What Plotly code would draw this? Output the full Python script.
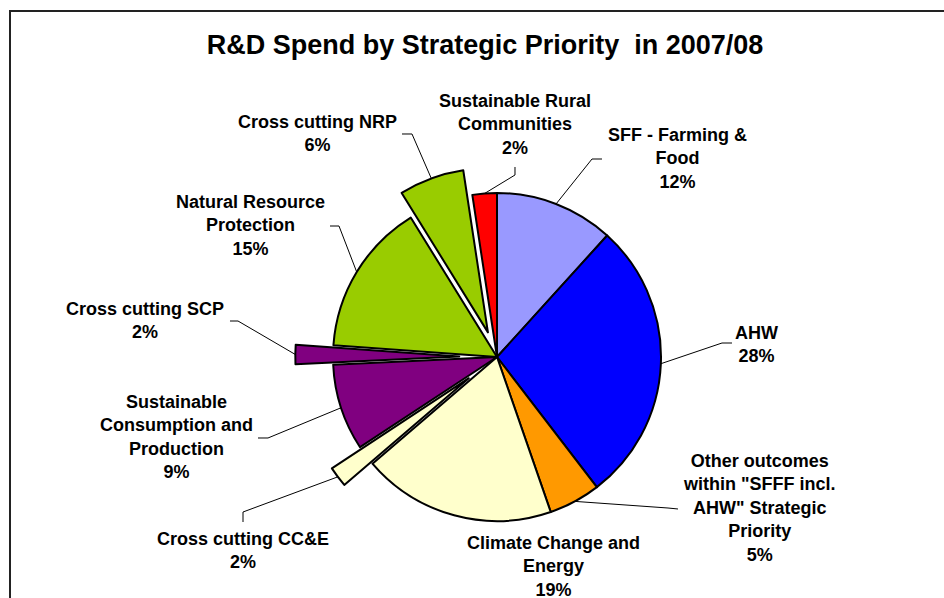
import math
import plotly.graph_objects as go

# ---------------- data ----------------
categories = [
    "SFF - Farming & Food",
    "AHW",
    "Other outcomes within \"SFFF incl. AHW\" Strategic Priority",
    "Climate Change and Energy",
    "Cross cutting CC&E",
    "Sustainable Consumption and Production",
    "Cross cutting SCP",
    "Natural Resource Protection",
    "Cross cutting NRP",
    "Sustainable Rural Communities",
]
values = [11.7, 27.8, 5.1, 19.0, 2.0, 8.5, 1.9, 15.0, 6.4, 2.4]
label_lines = [
    "SFF - Farming &<br>Food",
    "AHW",
    "Other outcomes<br>within \"SFFF incl.<br>AHW\" Strategic<br>Priority",
    "Climate Change and<br>Energy",
    "Cross cutting CC&E",
    "Sustainable<br>Consumption and<br>Production",
    "Cross cutting SCP",
    "Natural Resource<br>Protection",
    "Cross cutting NRP",
    "Sustainable Rural<br>Communities",
]

# ---------------- style / layout ----------------
colors = ["#9999FF", "#0000FF", "#FF9900", "#FFFFCC", "#FFFFCC",
          "#800080", "#800080", "#99CC00", "#99CC00", "#FF0000"]
pulls = [0, 0, 0, 0, 0.215, 0, 0.23, 0, 0.16, 0]

W, H = 944, 598
CX, CY, R = 497, 357, 164          # pie centre and radius in pixels
FONT = "Liberation Sans, Arial, sans-serif"

# label centres (px) and leader start/elbow points (px); None = no leader
label_pos = [(677, 158), (756, 345), (759, 508), (553, 566), (243, 550),
             (176, 437), (145, 320), (250, 226), (317, 134), (515, 125)]
leader_pts = [
    [(602, 159), (592, 159)],
    [(732, 343), (722, 343)],
    [(678, 509), (668, 508)],
    None,
    [(243, 522), (243, 512)],
    [(258, 438), (268, 438)],
    [(230, 321), (238, 321)],
    [(330, 226), (339, 226)],
    [(402, 134), (412, 134)],
    [(515, 167), (515, 175)],
]


def px(x):
    return x / W


def py(y):
    return 1 - y / H


maxpull = max(pulls)
half = R * (1 + maxpull)
dom_x = [px(CX - half), px(CX + half)]
dom_y = [py(CY + half), py(CY - half)]

fig = go.Figure(go.Pie(
    labels=categories,
    values=values,
    sort=False,
    direction="clockwise",
    rotation=0,
    pull=pulls,
    marker=dict(colors=colors, line=dict(color="#000000", width=2)),
    textinfo="none",
    hoverinfo="label+percent",
    showlegend=False,
    domain=dict(x=dom_x, y=dom_y),
))

total = sum(values)
annotations = []
shapes = []
cum = 0.0
for i, v in enumerate(values):
    a0 = cum / total * 2 * math.pi
    cum += v
    a1 = cum / total * 2 * math.pi
    mid = (a0 + a1) / 2
    pct = round(v / total * 100)
    lx, ly = label_pos[i]
    annotations.append(dict(
        x=px(lx), y=py(ly), xref="paper", yref="paper",
        text=f"{label_lines[i]}<br>{pct}%", showarrow=False,
        xanchor="center", yanchor="middle", align="center",
        font=dict(family=FONT, size=18, color="#000000", weight="bold"),
    ))
    if leader_pts[i]:
        off = pulls[i] * R
        ccx = CX + off * math.sin(mid)
        ccy = CY - off * math.cos(mid)
        ax = ccx + R * math.sin(mid)
        ay = ccy - R * math.cos(mid)
        pts = leader_pts[i] + [(ax, ay)]
        path = "M " + " L ".join(f"{px(x):.5f},{py(y):.5f}" for x, y in pts)
        shapes.append(dict(type="path", path=path, xref="paper", yref="paper",
                           line=dict(color="#000000", width=1)))

# chart border (extends past right/bottom of the view)
shapes.append(dict(type="rect", xref="paper", yref="paper",
                   x0=px(10), y0=py(620), x1=px(965), y1=py(11),
                   line=dict(color="#222222", width=2), fillcolor="rgba(0,0,0,0)"))

fig.update_layout(
    width=W, height=H,
    margin=dict(l=0, r=0, t=0, b=0),
    paper_bgcolor="#FFFFFF",
    plot_bgcolor="#FFFFFF",
    title=dict(text="R&D Spend by Strategic Priority  in 2007/08",
               x=px(485), y=py(45), xref="paper", yref="paper",
               xanchor="center", yanchor="middle",
               font=dict(family=FONT, size=27, color="#000000", weight="bold")),
    annotations=annotations,
    shapes=shapes,
)

fig.write_html("out.html")
